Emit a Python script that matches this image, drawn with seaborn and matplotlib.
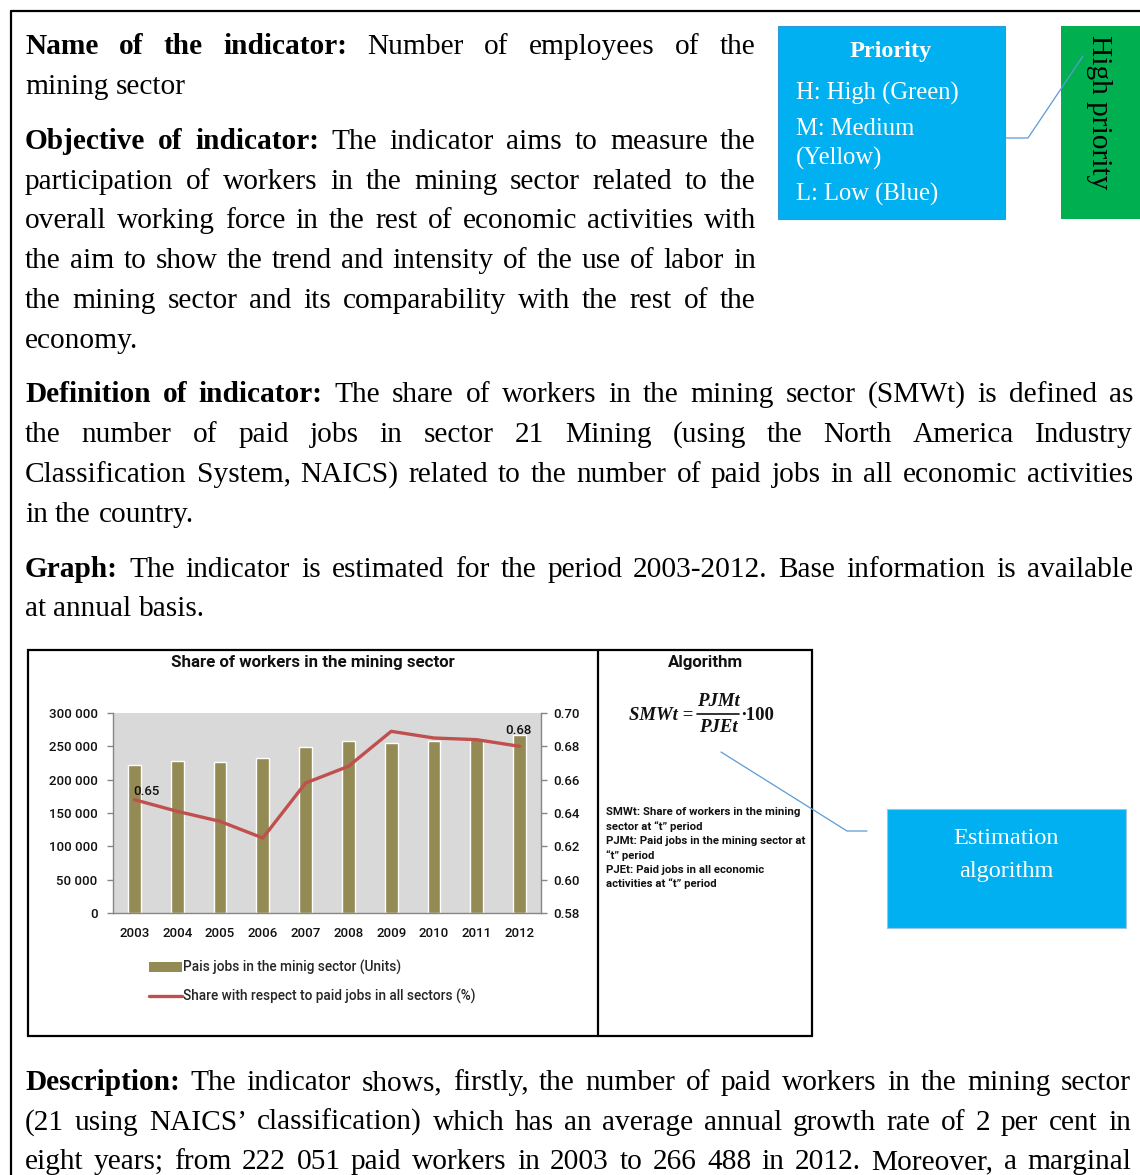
import numpy as np
import pandas as pd
import matplotlib
matplotlib.use("Agg")
import matplotlib.pyplot as plt
import seaborn as sns
from matplotlib.patches import Rectangle, Patch
from matplotlib.lines import Line2D
from matplotlib.ticker import FuncFormatter

# chart data
years = ['2003', '2004', '2005', '2006', '2007', '2008', '2009', '2010', '2011', '2012']
paid_jobs = [222051, 228000, 227000, 232000, 249500, 257500, 255500, 257500, 261000, 266488]
share = [0.648, 0.641, 0.635, 0.625, 0.658, 0.668, 0.689, 0.685, 0.684, 0.680]
left_ticks = [0, 50000, 100000, 150000, 200000, 250000, 300000]
right_ticks = [0.58, 0.60, 0.62, 0.64, 0.66, 0.68, 0.70]

bar_label = 'Pais jobs in the minig sector (Units)'
line_label = 'Share with respect to paid jobs in all sectors (%)'

# document text, line by line: (bold part, normal part, justified?)
top_lines = [
    ('Name of the indicator:', 'Number of employees of the', True),
    ('', 'mining sector', False),
    ('Objective of indicator:', 'The indicator aims to measure the', True),
    ('', 'participation of workers in the mining sector related to the', True),
    ('', 'overall working force in the rest of economic activities with', True),
    ('', 'the aim to show the trend and intensity of the use of labor in', True),
    ('', 'the mining sector and its comparability with the rest of the', True),
    ('', 'economy.', False),
]
top_y = [44, 84, 139, 179, 218, 258, 298, 338]

mid_lines = [
    ('Definition of indicator:', 'The share of workers in the mining sector (SMWt) is defined as', True),
    ('', 'the number of paid jobs in sector 21 Mining (using the North America Industry', True),
    ('', 'Classification System, NAICS) related to the number of paid jobs in all economic activities', True),
    ('', 'in the country.', False),
    ('Graph:', 'The indicator is estimated for the period 2003-2012. Base information is available', True),
    ('', 'at annual basis.', False),
]
mid_y = [392, 432, 472, 512, 567, 606]

bottom_lines = [
    ('Description:', 'The indicator shows, firstly, the number of paid workers in the mining sector', True),
    ('', "(21 using NAICS\u2019 classification) which has an average annual growth rate of 2 per cent in", True),
    ('', 'eight years; from 222 051 paid workers in 2003 to 266 488 in 2012. Moreover, a marginal', True),
]
bottom_y = [1080, 1120, 1159]

priority_lines = ['H: High (Green)', 'M: Medium', '(Yellow)', 'L: Low (Blue)']
priority_y = [93, 129, 158, 194]

algo_notes = [
    'SMWt: Share of workers in the mining',
    'sector at \u201ct\u201d period',
    'PJMt: Paid jobs in the mining sector at',
    '\u201ct\u201d period',
    'PJEt: Paid jobs in all economic',
    'activities at \u201ct\u201d period',
]

W, H = 1140, 1175
sns.set_style('white')
plt.rcParams['font.family'] = ['Liberation Serif', 'DejaVu Serif']
chart_font = ['Roboto', 'DejaVu Sans']
ink = '#111111'

fig = plt.figure(figsize=(W / 100, H / 100), dpi=100)
bg = fig.add_axes([0, 0, 1, 1])
bg.set_xlim(0, W)
bg.set_ylim(H, 0)
bg.axis('off')
renderer = fig.canvas.get_renderer()


def text_width(t):
    return t.get_window_extent(renderer).width


def put_line(bold, rest, x0, x1, yc, justify, size=21.2):
    yb = yc + 10
    toks = [(w, 'bold') for w in bold.split()] + [(w, 'normal') for w in rest.split()]
    texts = [bg.text(x0, yb, w, fontsize=size, fontweight=fw, va='baseline', ha='left', color='black')
             for w, fw in toks]
    widths = [text_width(t) for t in texts]
    probe1 = bg.text(0, 0, 'a a', fontsize=size)
    probe2 = bg.text(0, 0, 'aa', fontsize=size)
    space = text_width(probe1) - text_width(probe2)
    probe1.remove()
    probe2.remove()
    if justify and len(texts) > 1:
        gap = (x1 - x0 - sum(widths)) / (len(texts) - 1)
    else:
        gap = space
    x = x0
    for t, w in zip(texts, widths):
        t.set_x(x)
        x += w + gap


for (b, r, j), y in zip(top_lines, top_y):
    put_line(b, r, 25, 756, y, j)
for (b, r, j), y in zip(mid_lines, mid_y):
    put_line(b, r, 25, 1133, y, j)
for (b, r, j), y in zip(bottom_lines, bottom_y):
    put_line(b, r, 25, 1131, y, j)

# page frame
bg.plot([11, W], [11, 11], color='black', lw=1.6)
bg.plot([11, 11], [11, H], color='black', lw=1.6)

# priority box
blue = '#00B0F0'
bg.add_patch(Rectangle((778, 26), 227, 193, facecolor=blue, edgecolor='#2E9BD6', lw=0.8))
bg.text(891, 51, 'Priority', fontsize=17.5, fontweight='bold', color='white', ha='center', va='center')
for s, y in zip(priority_lines, priority_y):
    bg.text(796, y, s, fontsize=17.7, color='white', ha='left', va='center')

bg.add_patch(Rectangle((1061, 26), 79, 193, facecolor='#00B050', edgecolor='none'))
bg.text(1099, 35, 'High priority', fontsize=21.2, color='black', rotation=270,
        ha='left', va='center', rotation_mode='anchor')
bg.plot([1006, 1028, 1083], [138, 138, 56], color='#5B9BD5', lw=0.9)

# estimation box
bg.add_patch(Rectangle((887, 809), 239, 119, facecolor=blue, edgecolor='#9DC3E6', lw=0.8))
bg.text(1006, 838, 'Estimation', fontsize=17.5, color='white', ha='center', va='center')
bg.text(1006, 872, 'algorithm', fontsize=17.5, color='white', ha='center', va='center')
bg.plot([721, 847, 867], [752, 831, 831], color='#5B9BD5', lw=0.9)

# chart frame
bg.add_patch(Rectangle((28, 650), 784, 386, facecolor='none', edgecolor='black', lw=1.6))
bg.plot([598, 598], [650, 1036], color='black', lw=1.6)
bg.text(313, 662, 'Share of workers in the mining sector', family=chart_font, fontsize=12.2,
        fontweight='bold', ha='center', va='center', color=ink)
bg.text(705, 662, 'Algorithm', family=chart_font, fontsize=12.2, fontweight='bold',
        ha='center', va='center', color=ink)

# formula
fkw = dict(fontsize=13.5, fontweight='bold', fontstyle='italic', va='center', color=ink)
bg.text(693, 715, 'SMWt =', ha='right', **fkw)
bg.text(718, 702, 'PJMt', ha='center', **fkw)
bg.text(718, 727, 'PJEt', ha='center', **fkw)
bg.plot([697, 739], [714, 714], color=ink, lw=1.2)
bg.text(741, 715, '\u2219100', ha='left', fontsize=13.5, fontweight='bold', va='center', color=ink)

for i, s in enumerate(algo_notes):
    bg.text(606, 812 + i * 14.4, s, family=chart_font, fontsize=8.2, fontweight='bold',
            ha='left', va='center', color=ink)

# the chart itself
df = pd.DataFrame({'year': years, 'jobs': paid_jobs, 'share': share})
ax = fig.add_axes([113 / W, 1 - 913 / H, (541 - 113) / W, (913 - 713) / H])
sns.barplot(data=df, x='year', y='jobs', color='#948A54', saturation=1, width=0.3, ax=ax)
ax.set_facecolor('#D9D9D9')
ax.set_xlim(-0.5, len(years) - 0.5)
ax.set_ylim(0, 300000)
ax.set_yticks(left_ticks)
ax.yaxis.set_major_formatter(FuncFormatter(lambda v, p: f'{int(v):,}'.replace(',', ' ')))
ax.set_xlabel('')
ax.set_ylabel('')

ax2 = ax.twinx()
sns.lineplot(x=df.index, y=df['share'], color='#C0504D', lw=2.4, ax=ax2)
ax2.set_ylim(0.58, 0.70)
ax2.set_yticks(right_ticks)
ax2.yaxis.set_major_formatter(FuncFormatter(lambda v, p: f'{v:.2f}'))
ax2.set_ylabel('')

for a in (ax, ax2):
    for sp in a.spines.values():
        sp.set_visible(False)
ax.spines['left'].set_visible(True)
ax.spines['bottom'].set_visible(True)
ax2.spines['right'].set_visible(True)
for a, side in ((ax, 'left'), (ax, 'bottom'), (ax2, 'right')):
    a.spines[side].set_color('#868686')
    a.spines[side].set_linewidth(1.0)

ax.tick_params(axis='y', direction='out', length=4, width=1, color='#868686', pad=7,
               labelsize=9.5, labelcolor=ink, left=True)
ax.tick_params(axis='x', length=0, pad=10, labelsize=9.5, labelcolor=ink)
ax2.tick_params(axis='y', direction='out', length=4, width=1, color='#868686', pad=5,
                labelsize=9.5, labelcolor=ink, right=True)
for lab in ax.get_xticklabels() + ax.get_yticklabels() + ax2.get_yticklabels():
    lab.set_family(chart_font)
    lab.set_fontweight(500)

ax2.annotate(f'{share[0]:.2f}', (0, share[0]), xytext=(-1, 6), textcoords='offset points',
             ha='left', va='center', family=chart_font, fontsize=9.5, fontweight=500, color=ink)
ax2.annotate(f'{share[-1]:.2f}', (len(years) - 1, share[-1]), xytext=(-1, 11.5),
             textcoords='offset points', ha='center', va='center', family=chart_font,
             fontsize=9.5, fontweight=500, color=ink)

handles = [Patch(facecolor='#948A54', edgecolor='none'), Line2D([], [], color='#C0504D', lw=2.4)]
fig.legend(handles, [bar_label, line_label], loc='upper left',
           bbox_to_anchor=(149 / W, 1 - 960 / H), frameon=False, handlelength=2.4,
           handleheight=0.8, handletextpad=0.12, labelspacing=1.0, borderpad=0,
           borderaxespad=0, prop={'family': chart_font, 'size': 9.8, 'weight': 500})

fig.savefig('out.png', dpi=100)
